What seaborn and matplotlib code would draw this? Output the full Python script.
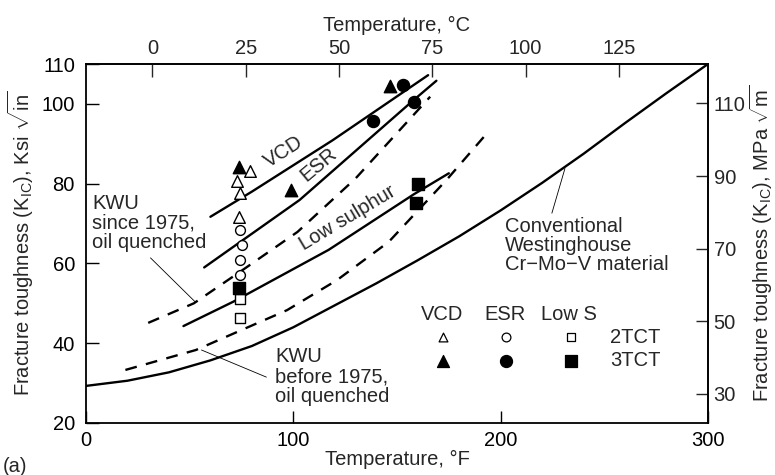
import numpy as np
import pandas as pd
import matplotlib
matplotlib.use("Agg")
import matplotlib.pyplot as plt
import seaborn as sns

# ---------------- data (°F, Ksi sqrt(in)) ----------------
conv_F = [0, 20, 40, 60, 80, 100, 120, 140, 160, 180, 200, 220, 240, 260, 280, 300]
conv_K = [29.3, 30.6, 32.7, 35.7, 39.3, 44.0, 49.5, 55.0, 60.8, 66.8, 73.3, 80.2, 87.5, 95.2, 102.7, 110.0]

kwu_before_F = [19, 53, 97, 121, 146, 174, 194]
kwu_before_K = [33.3, 38.3, 48.3, 55.8, 65.4, 81.0, 93.0]

kwu_since_F = [30, 52, 74, 102, 130, 166]
kwu_since_K = [45.1, 50.0, 57.8, 67.9, 81.3, 101.8]

lows_F = [47, 71, 117, 158, 175]
lows_K = [44.3, 50.4, 63.4, 77.3, 82.6]

esr_F = [57, 103, 157, 169]
esr_K = [59.0, 75.9, 100.5, 105.8]

vcd_F = [60, 80, 119, 165]
vcd_K = [71.7, 78.0, 90.9, 107.2]

# test points
vcd2_F = [79, 73, 74.5, 74]
vcd2_K = [83.2, 80.7, 77.6, 71.6]
vcd3_F = [74, 99, 146.5]
vcd3_K = [84.2, 78.4, 104.5]
esr2_F = [74.5, 75, 74.5, 74.5]
esr2_K = [68.4, 64.6, 60.9, 57.1]
esr3_F = [138.5, 153, 158]
esr3_K = [95.7, 104.7, 100.5]
lows2_F = [74.5, 74.5]
lows2_K = [51.0, 46.2]
lows3_F = [74, 160, 159]
lows3_K = [53.8, 79.9, 75.2]

x_ticks = [0, 100, 200, 300]
y_ticks = [20, 40, 60, 80, 100, 110]
c_ticks = [0, 25, 50, 75, 100, 125]
mpa_ticks = [30, 50, 70, 90, 110]

# ---------------- style ----------------
sns.set_theme(style="ticks")
plt.rcParams["font.family"] = ["Liberation Sans", "DejaVu Sans"]
plt.rcParams["mathtext.fontset"] = "custom"
plt.rcParams["mathtext.rm"] = "Liberation Sans"
plt.rcParams["mathtext.it"] = "Liberation Sans:italic"
plt.rcParams["mathtext.bf"] = "Liberation Sans:bold"
FS = 14.5

fig = plt.figure(figsize=(7.75, 4.75), dpi=100)
ax = fig.add_axes([86 / 775, 1 - 423 / 475, (708 - 86) / 775, (423 - 64) / 475])

lines = [
    (conv_F, conv_K, "-"),
    (kwu_before_F, kwu_before_K, "--"),
    (kwu_since_F, kwu_since_K, "--"),
    (lows_F, lows_K, "-"),
    (esr_F, esr_K, "-"),
    (vcd_F, vcd_K, "-"),
]
for fx, ky, ls in lines:
    df = pd.DataFrame({"F": fx, "K": ky})
    sns.lineplot(data=df, x="F", y="K", ax=ax, color="black", lw=1.7,
                 estimator=None, sort=False)
    ln = ax.lines[-1]
    if ls == "--":
        ln.set_dashes((5, 4))

pts = [
    (vcd2_F, vcd2_K, "^", "white", 70),
    (vcd3_F, vcd3_K, "^", "black", 80),
    (esr2_F, esr2_K, "o", "white", 50),
    (esr3_F, esr3_K, "o", "black", 75),
    (lows2_F, lows2_K, "s", "white", 60),
    (lows3_F, lows3_K, "s", "black", 70),
]
for fx, ky, m, fc, s in pts:
    df = pd.DataFrame({"F": fx, "K": ky})
    sns.scatterplot(data=df, x="F", y="K", ax=ax, marker=m, s=s,
                    facecolor=fc, edgecolor="black", linewidth=1.0, zorder=5)

ax.set_xlim(0, 300)
ax.set_ylim(20, 110)
ax.set_xticks(x_ticks)
ax.set_yticks(y_ticks)
ax.tick_params(direction="in", length=9, width=1.0, labelsize=FS, colors="black", pad=6)
ax.tick_params(axis="y", pad=8)
for sp in ax.spines.values():
    sp.set_linewidth(1.3)
    sp.set_color("black")
ax.set_xlabel("Temperature, °F", fontsize=FS, labelpad=0)
ax.set_ylabel(r"Fracture toughness (K$_{\mathrm{IC}}$), Ksi $\sqrt{\mathrm{in}}$", fontsize=FS, labelpad=4)

top = ax.secondary_xaxis("top", functions=(lambda f: (f - 32) * 5 / 9, lambda c: c * 9 / 5 + 32))
top.set_xticks(c_ticks)
top.tick_params(direction="in", length=9, width=1.0, labelsize=FS, pad=4)
top.set_xlabel("Temperature, °C", fontsize=FS, labelpad=6)

right = ax.secondary_yaxis("right", functions=(lambda k: k * 1.0988, lambda m: m / 1.0988))
right.set_yticks(mpa_ticks)
right.tick_params(direction="in", length=9, width=1.0, labelsize=FS, pad=4)
right.set_ylabel(r"Fracture toughness (K$_{\mathrm{IC}}$), MPa $\sqrt{\mathrm{m}}$", fontsize=FS, labelpad=2)

# curve labels
ax.text(95.5, 88.0, "VCD", rotation=33, ha="center", va="center", fontsize=FS)
ax.text(112, 84.7, "ESR", rotation=40, ha="center", va="center", fontsize=FS)
ax.text(126, 71.3, "Low sulphur", rotation=31, ha="center", va="center", fontsize=FS)
ax.text(3.0, 70.2, "KWU\nsince 1975,\noil quenched", ha="left", va="center", fontsize=FS, linespacing=1.05)
ax.text(91.3, 31.6, "KWU\nbefore 1975,\noil quenched", ha="left", va="center", fontsize=FS, linespacing=1.05)
ax.text(202.2, 64.6, "Conventional\nWestinghouse\nCr\u2212Mo\u2212V material", ha="left", va="center",
        fontsize=FS, linespacing=1.0)

lp = dict(arrowstyle="-", color="black", lw=0.6, shrinkA=0, shrinkB=0)
ax.annotate("", xy=(52.8, 50.3), xytext=(31.1, 61.4), arrowprops=lp)
ax.annotate("", xy=(55.7, 38.3), xytext=(87.0, 31.5), arrowprops=lp)
ax.annotate("", xy=(231.0, 83.8), xytext=(224.7, 72.6), arrowprops=lp)

# legend table
T = ax.transAxes
for x, name in zip([0.572, 0.673, 0.776], ["VCD", "ESR", "Low S"]):
    ax.text(x, 0.301, name, transform=T, ha="center", va="center", fontsize=FS)
for x, m in zip([0.574, 0.675, 0.779], ["^", "o", "s"]):
    ax.scatter([x], [0.239], transform=T, marker=m, s=40, facecolor="white", edgecolor="black", lw=0.9,
               clip_on=False)
    ax.scatter([x], [0.174], transform=T, marker=m, s=75, facecolor="black", edgecolor="black", lw=0.9,
               clip_on=False)
ax.text(0.843, 0.239, "2TCT", transform=T, ha="left", va="center", fontsize=FS)
ax.text(0.843, 0.174, "3TCT", transform=T, ha="left", va="center", fontsize=FS)

fig.text(3 / 775, 1 - 466 / 475, "(a)", ha="left", va="center", fontsize=FS)

fig.savefig("out.png", dpi=100)
